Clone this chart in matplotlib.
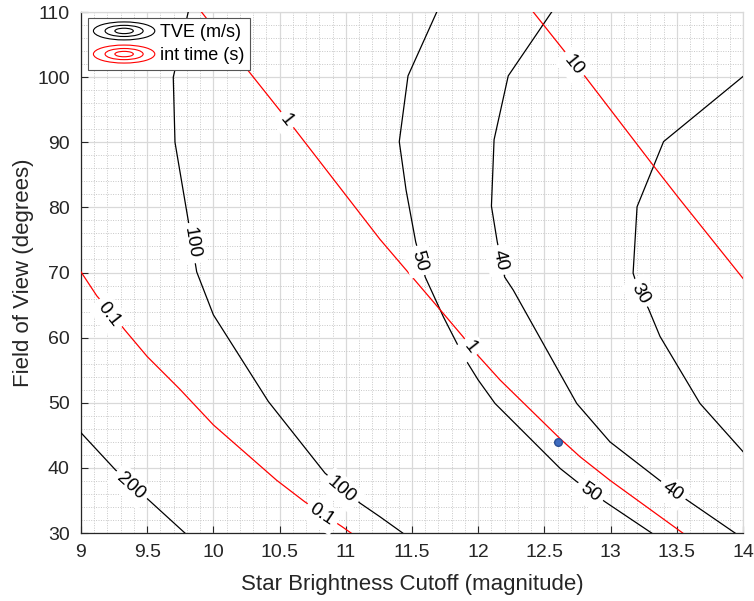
import numpy as np
import matplotlib
matplotlib.use("Agg")
import matplotlib.pyplot as plt
from matplotlib.patches import Ellipse
from matplotlib.legend_handler import HandlerBase
from matplotlib.lines import Line2D
from matplotlib.ticker import MultipleLocator

plt.rcParams['font.family'] = ['Liberation Sans', 'DejaVu Sans']

# TVE (m/s) contour lines
tve_200_x = [9.0, 9.26, 9.51, 9.785]
tve_200_y = [45.4, 39.7, 35.1, 30.0]
tve_100_x = [9.81, 9.697, 9.71, 9.81, 9.874, 10.0, 10.415, 10.843, 11.107, 11.258, 11.43]
tve_100_y = [110, 100, 90, 78, 70.1, 63.5, 50.2, 39.2, 34.6, 32.5, 30]
tve_50_x = [11.687, 11.47, 11.404, 11.455, 11.528, 11.6, 11.737, 11.89, 12.0, 12.127, 12.62,
            12.744, 12.958, 13.31]
tve_50_y = [110, 100.2, 90.1, 82.7, 74.7, 69.3, 63.2, 57.1, 53.5, 49.9, 39.9, 37.9, 34.8, 30]
tve_40_x = [12.555, 12.227, 12.12, 12.1, 12.144, 12.2, 12.265, 12.744, 12.995, 13.37, 13.575, 13.94]
tve_40_y = [110, 100.2, 90.4, 80.2, 74.7, 69.3, 67.3, 49.9, 44.0, 38.1, 35.1, 30]
tve_30_x = [14.0, 13.4, 13.2, 13.17, 13.22, 13.285, 13.373, 13.675, 14.0]
tve_30_y = [100.1, 90.1, 80.1, 69.9, 66.8, 64.5, 60.2, 49.9, 42.5]

# integration time (s) contour lines
int_01_x = [9.0, 9.12, 9.21, 9.33, 9.5, 9.746, 10.0, 10.478, 10.69, 10.8, 10.97, 11.04]
int_01_y = [70.1, 66.4, 64.3, 61.2, 57.1, 52.1, 46.6, 38.1, 34.8, 33.3, 31.0, 30]
int_1_x = [9.91, 10.49, 10.6, 11.258, 11.737, 11.883, 11.996, 12.165, 12.618, 12.77, 12.995, 13.545]
int_1_y = [110, 95.2, 92.4, 75.1, 63.7, 60.2, 57.3, 53.5, 44.5, 41.7, 38.1, 30]
int_10_x = [12.416, 12.643, 12.807, 13.32, 13.524, 14.0]
int_10_y = [110, 104.2, 100.1, 86.5, 81.2, 69.1]

# inline labels: text, x, y
tve_labels = [('200', 9.375, 37.2), ('100', 9.836, 74.5), ('100', 10.969, 36.6),
              ('50', 11.555, 71.8), ('50', 12.844, 36.2), ('40', 12.165, 71.9),
              ('40', 13.466, 36.35), ('30', 13.222, 66.8)]
int_labels = [('0.1', 9.21, 63.6), ('0.1', 10.818, 32.8), ('1', 10.553, 93.4),
              ('1', 11.938, 58.5), ('10', 12.718, 101.9)]

design_x = [12.6]
design_y = [44.0]


class ConcentricEllipses(HandlerBase):
    def create_artists(self, legend, orig_handle, xdescent, ydescent, width, height, fontsize, trans):
        cx = width / 2 - xdescent
        cy = height / 2 - ydescent
        out = []
        for f in (1.0, 0.62, 0.3):
            e = Ellipse((cx, cy), width * f, height * 1.2 * f, fill=False,
                        edgecolor=orig_handle.get_color(), lw=0.8, transform=trans)
            out.append(e)
        return out


fig = plt.figure(figsize=(7.54, 6.01), dpi=100)
ax = fig.add_axes([0.1074, 0.1131, 0.878, 0.8669])
ax.set_xlim(9, 14)
ax.set_ylim(30, 110)

tve_lines = [(tve_200_x, tve_200_y), (tve_100_x, tve_100_y), (tve_50_x, tve_50_y),
             (tve_40_x, tve_40_y), (tve_30_x, tve_30_y)]
int_lines = [(int_01_x, int_01_y), (int_1_x, int_1_y), (int_10_x, int_10_y)]

for xs, ys in tve_lines:
    ax.plot(xs, ys, color='black', lw=0.9, zorder=3)
for xs, ys in int_lines:
    ax.plot(xs, ys, color='red', lw=0.9, zorder=3)


def put_label(txt, x, y, lines):
    # find nearest segment among the lines and align text with it
    p = ax.transData.transform((x, y))
    best = None
    for xs, ys in lines:
        pts = ax.transData.transform(np.column_stack([xs, ys]))
        for a, b in zip(pts[:-1], pts[1:]):
            d = b - a
            t = np.clip(np.dot(p - a, d) / np.dot(d, d), 0, 1)
            dist = np.linalg.norm(a + t * d - p)
            if best is None or dist < best[0]:
                best = (dist, d)
    d = best[1]
    ang = np.degrees(np.arctan2(d[1], d[0]))
    if ang > 90:
        ang -= 180
    elif ang < -90:
        ang += 180
    ax.text(x, y, txt, fontsize=13.5, color='black', rotation=ang, rotation_mode='anchor',
            ha='center', va='center', zorder=4,
            bbox=dict(boxstyle='square,pad=0.25', facecolor='white', edgecolor='none'))


for txt, x, y in tve_labels:
    put_label(txt, x, y, tve_lines)
for txt, x, y in int_labels:
    put_label(txt, x, y, int_lines)

ax.plot(design_x, design_y, 'o', ms=5.5, mfc='#3F6CC0', mec='#2A4E94', zorder=5)

# axes styling, matlab-ish
ax.set_xticks(np.arange(9, 14.01, 0.5))
ax.set_xticklabels(['9', '9.5', '10', '10.5', '11', '11.5', '12', '12.5', '13', '13.5', '14'])
ax.set_yticks(np.arange(30, 111, 10))
ax.xaxis.set_minor_locator(MultipleLocator(0.1))
ax.yaxis.set_minor_locator(MultipleLocator(2))
ax.grid(which='major', color='#d9d9d9', lw=0.9, zorder=0)
ax.grid(which='minor', color='#c8c8c8', lw=0.7, linestyle=(0, (1, 1.5)), zorder=0)
ax.set_axisbelow(True)
ax.tick_params(which='major', direction='in', length=5, width=0.8, colors='#262626',
               labelsize=14, pad=8)
ax.tick_params(which='minor', length=0)
for s in ['left', 'bottom']:
    ax.spines[s].set_color('#262626')
    ax.spines[s].set_linewidth(0.9)
for s in ['top', 'right']:
    ax.spines[s].set_color('#d9d9d9')
    ax.spines[s].set_linewidth(0.9)

ax.set_xlabel('Star Brightness Cutoff (magnitude)', fontsize=16, color='#262626', labelpad=9)
ax.set_ylabel('Field of View (degrees)', fontsize=16, color='#262626', labelpad=2)

handles = [Line2D([], [], color='black'), Line2D([], [], color='red')]
leg = ax.legend(handles, ['TVE (m/s)', 'int time (s)'], loc='upper left',
                bbox_to_anchor=(0.0106, 0.9885), borderaxespad=0, fontsize=13,
                handler_map={Line2D: ConcentricEllipses()}, handlelength=3.4,
                handleheight=0.9, handletextpad=0.3, borderpad=0.3, labelspacing=0.3,
                fancybox=False, framealpha=1)
leg.get_frame().set_edgecolor('#555555')
leg.get_frame().set_linewidth(0.8)

fig.savefig('out.png', dpi=100)
